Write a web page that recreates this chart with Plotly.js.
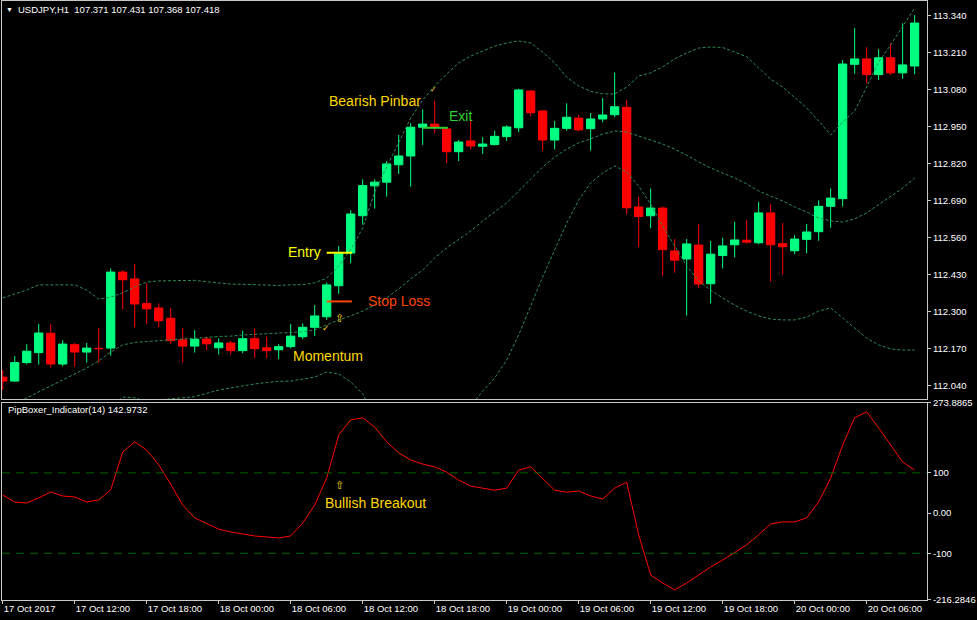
<!DOCTYPE html>
<html>
<head>
<meta charset="utf-8">
<script src="https://cdn.plot.ly/plotly-3.0.1.min.js"></script>
<style>html,body{margin:0;padding:0;background:#000;}#chart{width:977px;height:620px;}</style>
</head>
<body>
<div id="chart"></div>
<script>
// ---- data (hourly bars, index 0 = 17 Oct 06:00) ----
var barIndex = [];
for (var k = 0; k < 77; k++) barIndex.push(k);

var openP = [112.071,112.057,112.122,112.157,112.225,112.117,112.185,112.159,112.172,112.173,
112.440,112.416,112.330,112.314,112.278,112.202,112.180,112.205,112.174,112.191,
112.164,112.206,112.174,112.167,112.178,112.213,112.246,112.283,112.392,112.507,
112.638,112.743,112.756,112.817,112.848,112.949,112.960,112.943,112.863,112.901,
112.882,112.888,112.916,112.947,113.076,113.006,112.904,112.945,112.981,112.944,
112.978,112.993,113.019,112.669,112.638,112.665,112.514,112.486,112.535,112.399,
112.498,112.536,112.552,112.543,112.648,112.540,112.515,112.555,112.582,112.671,
112.698,113.170,113.189,113.134,113.193,113.140,113.164];
var highP = [112.096,112.145,112.187,112.258,112.257,112.201,112.192,112.191,112.244,112.453,
112.447,112.468,112.401,112.330,112.314,112.244,112.236,112.213,112.207,112.198,
112.234,112.241,112.213,112.187,112.258,112.260,112.324,112.403,112.532,112.658,
112.766,112.766,112.830,112.922,112.963,113.012,113.042,112.945,112.904,112.973,
112.914,112.937,112.956,113.084,113.080,113.009,112.971,113.033,112.992,112.999,
113.052,113.141,113.045,112.705,112.734,112.670,112.556,112.556,112.609,112.549,
112.561,112.617,112.623,112.687,112.679,112.612,112.570,112.609,112.692,112.734,
113.185,113.297,113.230,113.223,113.244,113.314,113.343];
var lowP = [112.026,112.054,112.116,112.115,112.104,112.109,112.108,112.122,112.122,112.146,
112.308,112.245,112.258,112.245,112.188,112.122,112.157,112.166,112.150,112.151,
112.155,112.138,112.137,112.134,112.172,112.204,112.215,112.272,112.363,112.471,
112.607,112.663,112.705,112.785,112.740,112.887,112.928,112.822,112.830,112.871,
112.855,112.885,112.901,112.932,112.988,112.867,112.871,112.937,112.935,112.867,
112.966,112.984,112.643,112.529,112.594,112.427,112.438,112.287,112.383,112.330,
112.453,112.492,112.540,112.538,112.406,112.432,112.503,112.506,112.550,112.596,
112.670,113.137,113.103,113.115,113.133,113.119,113.135];
var closeP = [112.057,112.122,112.162,112.226,112.117,112.187,112.159,112.173,112.171,112.440,
112.413,112.328,112.311,112.269,112.199,112.180,112.204,112.188,112.191,112.164,
112.206,112.171,112.164,112.178,112.215,112.246,112.286,112.395,112.507,112.644,
112.744,112.756,112.820,112.848,112.949,112.960,112.949,112.863,112.897,112.883,
112.890,112.917,112.950,113.080,113.000,112.904,112.945,112.984,112.940,112.978,
112.992,113.021,112.666,112.635,112.665,112.519,112.482,112.539,112.398,112.503,
112.532,112.553,112.545,112.648,112.536,112.529,112.556,112.581,112.671,112.700,
113.171,113.189,113.134,113.193,113.140,113.168,113.315];

var bbUpper = [112.349,112.363,112.377,112.395,112.395,112.395,112.395,112.377,112.345,112.352,
112.367,112.388,112.405,112.409,112.410,112.411,112.411,112.406,112.402,112.398,
112.397,112.395,112.393,112.393,112.395,112.396,112.402,112.419,112.461,112.518,
112.595,112.721,112.809,112.897,112.981,113.045,113.094,113.136,113.175,113.199,
113.217,113.234,113.245,113.252,113.245,113.213,113.175,113.125,113.094,113.075,
113.066,113.066,113.090,113.129,113.140,113.161,113.189,113.210,113.227,113.231,
113.229,113.213,113.197,113.157,113.118,113.090,113.055,113.017,112.971,112.922,
112.967,113.006,113.090,113.178,113.238,113.305,113.368];
var bbMiddle = [111.948,111.973,111.998,112.019,112.040,112.061,112.082,112.103,112.128,112.159,
112.184,112.193,112.196,112.200,112.202,112.205,112.207,112.210,112.214,112.215,
112.219,112.221,112.222,112.224,112.226,112.230,112.237,112.254,112.272,112.286,
112.303,112.324,112.349,112.381,112.416,112.447,112.490,112.525,112.556,112.584,
112.620,112.651,112.683,112.725,112.767,112.809,112.844,112.872,112.894,112.908,
112.925,112.936,112.932,112.918,112.904,112.890,112.872,112.851,112.827,112.806,
112.788,112.771,112.750,112.725,112.707,112.690,112.669,112.651,112.630,112.620,
112.616,112.627,112.648,112.676,112.704,112.735,112.771];
var bbLower = [111.569,111.587,111.622,111.646,111.685,111.727,111.769,111.829,111.910,111.966,
112.001,111.998,111.987,111.991,111.994,111.999,112.002,112.014,112.026,112.033,
112.041,112.047,112.052,112.056,112.057,112.063,112.071,112.089,112.082,112.054,
112.012,111.927,111.889,111.864,111.850,111.850,111.885,111.913,111.938,111.970,
112.022,112.068,112.131,112.219,112.324,112.423,112.518,112.612,112.693,112.753,
112.788,112.813,112.792,112.742,112.679,112.602,112.532,112.461,112.409,112.377,
112.349,112.324,112.303,112.286,112.275,112.272,112.272,112.282,112.303,112.314,
112.279,112.244,112.208,112.184,112.170,112.166,112.166];

var pipBoxer = [45,27.6,25,37.6,52.5,42.5,40,27.6,32.6,57.5,
152,177,157,120,72,20,-12,-27,-40,-47,
-52,-57,-59.5,-62,-57,-25,20,87,194,232,
237,214,177,150,132,122,115,102,82,67,
62,57,62,107,115,87,57,52,55,42.5,
35,62,77,-54,-154,-174,-191,-174,-154,-134,
-117,-97,-79,-54,-27,-22,-22,-12,27.6,87,
169,237,252,212,169,127,107];

var levelValues = [100, -100];
var tickIdx = [0,6,12,18,24,30,36,42,48,54,60,66,72];
var tickText = ["17 Oct 2017","17 Oct 12:00","17 Oct 18:00","18 Oct 00:00","18 Oct 06:00","18 Oct 12:00",
  "18 Oct 18:00","19 Oct 00:00","19 Oct 06:00","19 Oct 12:00","19 Oct 18:00","20 Oct 00:00","20 Oct 06:00"];
var subTickVals = [273.8865, 100, 0, -100, -216.2846];
var subTickText = ["273.8865","100","0.00","-100","-216.2846"];

var entryPrice = 112.508, stopPrice = 112.337, exitPrice = 112.947;

// ---- styling ----
var FONT = "Liberation Sans, Arial, sans-serif";
var FG = "#c8c8c8";
var BAND = "#2e8b57";

function band(vals) {
  return {type:"scatter", mode:"lines", x:barIndex, y:vals, xaxis:"x", yaxis:"y",
    line:{color:BAND, width:1, dash:"3px,2px"}, hoverinfo:"skip", showlegend:false};
}

var traces = [
  band(bbUpper), band(bbMiddle), band(bbLower),
  {type:"candlestick", x:barIndex, open:openP, high:highP, low:lowP, close:closeP,
   xaxis:"x", yaxis:"y", whiskerwidth:0,
   increasing:{line:{color:"#00ff80", width:1}, fillcolor:"#00ff80"},
   decreasing:{line:{color:"#ff0000", width:1}, fillcolor:"#ff0000"},
   hoverinfo:"skip", showlegend:false},
  {type:"scatter", mode:"lines", x:barIndex, y:pipBoxer, xaxis:"x2", yaxis:"y2",
   line:{color:"#ff0000", width:1}, hoverinfo:"skip", showlegend:false}
];

var xr = [-0.06, 77.03];
var shapes = [
  {type:"line", xref:"x", yref:"y", x0:27, x1:29.1, y0:entryPrice, y1:entryPrice, line:{color:"#ffff00", width:2}},
  {type:"line", xref:"x", yref:"y", x0:27, x1:29.1, y0:stopPrice, y1:stopPrice, line:{color:"#ff4500", width:2}},
  {type:"line", xref:"x", yref:"y", x0:35, x1:37.1, y0:exitPrice, y1:exitPrice, line:{color:"#32cd32", width:2}}
];
levelValues.forEach(function(v){
  shapes.push({type:"line", xref:"paper", yref:"y2", x0:0, x1:1, y0:v, y1:v,
    line:{color:"#006400", width:1, dash:"8px,6px"}});
});

function ann(x, y, xref, yref, text, color, size, xanchor) {
  return {x:x, y:y, xref:xref, yref:yref, text:text, showarrow:false,
    xanchor:xanchor||"left", yanchor:"middle", font:{family:FONT, size:size, color:color}};
}
var annotations = [
  ann(0.0025, 0.9866, "paper", "paper", "▼", "#ffffff", 7),
  ann(0.0151, 0.9866, "paper", "paper", "USDJPY,H1&nbsp;&nbsp;107.371 107.431 107.368 107.418", "#ffffff", 9.5),
  ann(0.004, 0.3172, "paper", "paper", "PipBoxer_Indicator(14) 142.9732", "#ffffff", 9.5),
  ann(27.02, 113.041, "x", "y", "Bearish Pinbar", "#ffd700", 14),
  ann(35.86, 113.080, "x", "y", "✓", "#ffd700", 8, "center"),
  ann(37.0, 112.988, "x", "y", "Exit", "#32cd32", 14),
  ann(23.6, 112.511, "x", "y", "Entry", "#ffff00", 14),
  ann(30.28, 112.338, "x", "y", "Stop Loss", "#ff4500", 14),
  ann(24.03, 112.145, "x", "y", "Momentum", "#ffd700", 14),
  ann(26.94, 112.244, "x", "y", "✓", "#ffd700", 9, "center"),
  ann(28.03, 112.279, "x", "y", "⇧", "#ffd700", 11, "center"),
  ann(26.69, 25.1, "x2", "y2", "Bullish Breakout", "#ffd700", 14),
  ann(28.03, 70, "x2", "y2", "⇧", "#ffd700", 11, "center")
];

var layout = {
  width:977, height:620,
  margin:{l:2, r:50, t:1, b:20, pad:0},
  paper_bgcolor:"#000000", plot_bgcolor:"#000000",
  font:{family:FONT, size:9.5, color:"#ffffff"},
  showlegend:false, hovermode:false, dragmode:false,
  boxgap:0.31, boxgroupgap:0,
  xaxis:{domain:[0,1], anchor:"y", range:xr, showticklabels:false, ticks:"",
    showline:true, mirror:true, linecolor:FG, linewidth:1, showgrid:false, zeroline:false,
    rangeslider:{visible:false}, fixedrange:true},
  yaxis:{domain:[0.33556,1], anchor:"x", side:"right", range:[111.9941,113.3925],
    tick0:112.04, dtick:0.13, tickformat:".3f", ticks:"outside", ticklen:3, tickcolor:FG,
    showline:true, mirror:true, linecolor:FG, linewidth:1, showgrid:false, zeroline:false,
    tickfont:{family:FONT, size:9.5, color:"#ffffff"}, fixedrange:true},
  xaxis2:{domain:[0,1], anchor:"y2", range:xr, tickmode:"array", tickvals:tickIdx, ticktext:tickText,
    ticks:"outside", ticklen:3, tickcolor:FG, ticklabelposition:"outside right",
    showline:true, mirror:true, linecolor:FG, linewidth:1, showgrid:false, zeroline:false,
    tickfont:{family:FONT, size:9.5, color:"#ffffff"}, rangeslider:{visible:false}, fixedrange:true},
  yaxis2:{domain:[0,0.3289], anchor:"x2", side:"right", range:[-216.2846,273.8865],
    tickmode:"array", tickvals:subTickVals, ticktext:subTickText, ticks:"outside", ticklen:3, tickcolor:FG,
    showline:true, mirror:true, linecolor:FG, linewidth:1, showgrid:false, zeroline:false,
    tickfont:{family:FONT, size:9.5, color:"#ffffff"}, fixedrange:true},
  shapes:shapes,
  annotations:annotations
};

Plotly.newPlot("chart", traces, layout, {displayModeBar:false, staticPlot:true});
</script>
</body>
</html>
